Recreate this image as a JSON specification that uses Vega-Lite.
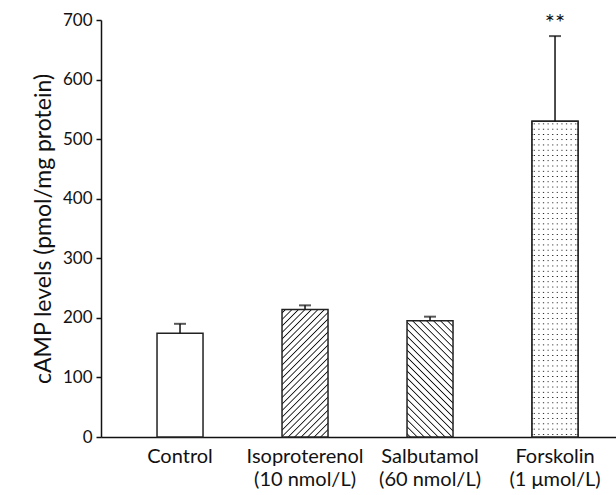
{
  "$schema": "https://vega.github.io/schema/vega-lite/v6.json",
  "autosize": "none",
  "width": 515,
  "height": 417,
  "padding": {"left": 101, "top": 20, "right": 0, "bottom": 58},
  "background": "white",
  "config": {"view": {"stroke": null}, "font": "Lato"},
  "data": {
    "values": [
      {"id": "C", "group": "Control", "value": 174, "upper": 190, "sig": ""},
      {"id": "I", "group": "Isoproterenol|(10 nmol/L)", "value": 214, "upper": 221, "sig": ""},
      {"id": "S", "group": "Salbutamol|(60 nmol/L)", "value": 195, "upper": 202, "sig": ""},
      {"id": "F", "group": "Forskolin|(1 μmol/L)", "value": 530, "upper": 673, "sig": "**"}
    ]
  },
  "encoding": {
    "x": {
      "field": "group",
      "type": "nominal",
      "sort": null,
      "scale": {"paddingInner": 0.632, "paddingOuter": 0.376, "align": 0.596},
      "axis": {
        "title": null,
        "labelAngle": 0,
        "ticks": false,
        "domainColor": "#111",
        "domainWidth": 1.5,
        "labelFontSize": 20,
        "labelColor": "#111",
        "labelPadding": 9,
        "labelLineHeight": 23,
        "labelExpr": "split(datum.label, '|')"
      }
    }
  },
  "layer": [
    {
      "mark": {"type": "bar", "stroke": "#222", "strokeWidth": 1.5},
      "encoding": {
        "y": {
          "field": "value",
          "type": "quantitative",
          "scale": {"domain": [0, 700]},
          "title": "cAMP levels (pmol/mg protein)",
          "axis": {
            "title": "cAMP levels (pmol/mg protein)",
            "titleFontSize": 23,
            "titleFontWeight": "normal",
            "titleColor": "#111",
            "titleX": -51,
            "titleBaseline": "alphabetic",
            "values": [0, 100, 200, 300, 400, 500, 600, 700],
            "grid": false,
            "tickSize": 5,
            "tickWidth": 1.5,
            "tickColor": "#111",
            "domainColor": "#111",
            "domainWidth": 1.5,
            "labelFontSize": 17,
            "labelColor": "#111",
            "labelPadding": 4
          }
        },
        "fill": {
          "condition": [
            {
              "test": "datum.id === 'I'",
              "value": {
                "gradient": "linear", "x1": 0, "y1": 0, "x2": 0.435, "y2": 1.204,
                "stops": [
                  {"offset": 0.013, "color": "#fff"}, {"offset": 0.02, "color": "#111"}, {"offset": 0.027, "color": "#fff"},
                  {"offset": 0.0505, "color": "#fff"}, {"offset": 0.0575, "color": "#111"}, {"offset": 0.0645, "color": "#fff"},
                  {"offset": 0.088, "color": "#fff"}, {"offset": 0.095, "color": "#111"}, {"offset": 0.102, "color": "#fff"},
                  {"offset": 0.1255, "color": "#fff"}, {"offset": 0.1325, "color": "#111"}, {"offset": 0.1395, "color": "#fff"},
                  {"offset": 0.163, "color": "#fff"}, {"offset": 0.17, "color": "#111"}, {"offset": 0.177, "color": "#fff"},
                  {"offset": 0.2005, "color": "#fff"}, {"offset": 0.2075, "color": "#111"}, {"offset": 0.2145, "color": "#fff"},
                  {"offset": 0.238, "color": "#fff"}, {"offset": 0.245, "color": "#111"}, {"offset": 0.252, "color": "#fff"},
                  {"offset": 0.2755, "color": "#fff"}, {"offset": 0.2825, "color": "#111"}, {"offset": 0.2895, "color": "#fff"},
                  {"offset": 0.313, "color": "#fff"}, {"offset": 0.32, "color": "#111"}, {"offset": 0.327, "color": "#fff"},
                  {"offset": 0.3505, "color": "#fff"}, {"offset": 0.3575, "color": "#111"}, {"offset": 0.3645, "color": "#fff"},
                  {"offset": 0.388, "color": "#fff"}, {"offset": 0.395, "color": "#111"}, {"offset": 0.402, "color": "#fff"},
                  {"offset": 0.4255, "color": "#fff"}, {"offset": 0.4325, "color": "#111"}, {"offset": 0.4395, "color": "#fff"},
                  {"offset": 0.463, "color": "#fff"}, {"offset": 0.47, "color": "#111"}, {"offset": 0.477, "color": "#fff"},
                  {"offset": 0.5005, "color": "#fff"}, {"offset": 0.5075, "color": "#111"}, {"offset": 0.5145, "color": "#fff"},
                  {"offset": 0.538, "color": "#fff"}, {"offset": 0.545, "color": "#111"}, {"offset": 0.552, "color": "#fff"},
                  {"offset": 0.5755, "color": "#fff"}, {"offset": 0.5825, "color": "#111"}, {"offset": 0.5895, "color": "#fff"},
                  {"offset": 0.613, "color": "#fff"}, {"offset": 0.62, "color": "#111"}, {"offset": 0.627, "color": "#fff"},
                  {"offset": 0.6505, "color": "#fff"}, {"offset": 0.6575, "color": "#111"}, {"offset": 0.6645, "color": "#fff"},
                  {"offset": 0.688, "color": "#fff"}, {"offset": 0.695, "color": "#111"}, {"offset": 0.702, "color": "#fff"},
                  {"offset": 0.7255, "color": "#fff"}, {"offset": 0.7325, "color": "#111"}, {"offset": 0.7395, "color": "#fff"},
                  {"offset": 0.763, "color": "#fff"}, {"offset": 0.77, "color": "#111"}, {"offset": 0.777, "color": "#fff"},
                  {"offset": 0.8005, "color": "#fff"}, {"offset": 0.8075, "color": "#111"}, {"offset": 0.8145, "color": "#fff"},
                  {"offset": 0.838, "color": "#fff"}, {"offset": 0.845, "color": "#111"}, {"offset": 0.852, "color": "#fff"},
                  {"offset": 0.8755, "color": "#fff"}, {"offset": 0.8825, "color": "#111"}, {"offset": 0.8895, "color": "#fff"},
                  {"offset": 0.913, "color": "#fff"}, {"offset": 0.92, "color": "#111"}, {"offset": 0.927, "color": "#fff"},
                  {"offset": 0.9505, "color": "#fff"}, {"offset": 0.9575, "color": "#111"}, {"offset": 0.9645, "color": "#fff"}
                ]
              }
            },
            {
              "test": "datum.id === 'S'",
              "value": {
                "gradient": "linear", "x1": 0, "y1": 1, "x2": 0.478, "y2": -0.207,
                "stops": [
                  {"offset": 0.0125, "color": "#fff"}, {"offset": 0.02, "color": "#111"}, {"offset": 0.0275, "color": "#fff"},
                  {"offset": 0.0555, "color": "#fff"}, {"offset": 0.063, "color": "#111"}, {"offset": 0.0705, "color": "#fff"},
                  {"offset": 0.0985, "color": "#fff"}, {"offset": 0.106, "color": "#111"}, {"offset": 0.1135, "color": "#fff"},
                  {"offset": 0.1415, "color": "#fff"}, {"offset": 0.149, "color": "#111"}, {"offset": 0.1565, "color": "#fff"},
                  {"offset": 0.1845, "color": "#fff"}, {"offset": 0.192, "color": "#111"}, {"offset": 0.1995, "color": "#fff"},
                  {"offset": 0.2275, "color": "#fff"}, {"offset": 0.235, "color": "#111"}, {"offset": 0.2425, "color": "#fff"},
                  {"offset": 0.2705, "color": "#fff"}, {"offset": 0.278, "color": "#111"}, {"offset": 0.2855, "color": "#fff"},
                  {"offset": 0.3135, "color": "#fff"}, {"offset": 0.321, "color": "#111"}, {"offset": 0.3285, "color": "#fff"},
                  {"offset": 0.3565, "color": "#fff"}, {"offset": 0.364, "color": "#111"}, {"offset": 0.3715, "color": "#fff"},
                  {"offset": 0.3995, "color": "#fff"}, {"offset": 0.407, "color": "#111"}, {"offset": 0.4145, "color": "#fff"},
                  {"offset": 0.4425, "color": "#fff"}, {"offset": 0.45, "color": "#111"}, {"offset": 0.4575, "color": "#fff"},
                  {"offset": 0.4855, "color": "#fff"}, {"offset": 0.493, "color": "#111"}, {"offset": 0.5005, "color": "#fff"},
                  {"offset": 0.5285, "color": "#fff"}, {"offset": 0.536, "color": "#111"}, {"offset": 0.5435, "color": "#fff"},
                  {"offset": 0.5715, "color": "#fff"}, {"offset": 0.579, "color": "#111"}, {"offset": 0.5865, "color": "#fff"},
                  {"offset": 0.6145, "color": "#fff"}, {"offset": 0.622, "color": "#111"}, {"offset": 0.6295, "color": "#fff"},
                  {"offset": 0.6575, "color": "#fff"}, {"offset": 0.665, "color": "#111"}, {"offset": 0.6725, "color": "#fff"},
                  {"offset": 0.7005, "color": "#fff"}, {"offset": 0.708, "color": "#111"}, {"offset": 0.7155, "color": "#fff"},
                  {"offset": 0.7435, "color": "#fff"}, {"offset": 0.751, "color": "#111"}, {"offset": 0.7585, "color": "#fff"},
                  {"offset": 0.7865, "color": "#fff"}, {"offset": 0.794, "color": "#111"}, {"offset": 0.8015, "color": "#fff"},
                  {"offset": 0.8295, "color": "#fff"}, {"offset": 0.837, "color": "#111"}, {"offset": 0.8445, "color": "#fff"},
                  {"offset": 0.8725, "color": "#fff"}, {"offset": 0.88, "color": "#111"}, {"offset": 0.8875, "color": "#fff"},
                  {"offset": 0.9155, "color": "#fff"}, {"offset": 0.923, "color": "#111"}, {"offset": 0.9305, "color": "#fff"},
                  {"offset": 0.9585, "color": "#fff"}, {"offset": 0.966, "color": "#111"}, {"offset": 0.9735, "color": "#fff"}
                ]
              }
            },
            {
              "test": "datum.id === 'F'",
              "value": {
                "gradient": "linear", "x1": 0, "y1": 0, "x2": 1, "y2": 0,
                "stops": [
                  {"offset": 0.025, "color": "#fff"}, {"offset": 0.05, "color": "#000"}, {"offset": 0.075, "color": "#fff"},
                  {"offset": 0.125, "color": "#fff"}, {"offset": 0.15, "color": "#000"}, {"offset": 0.175, "color": "#fff"},
                  {"offset": 0.225, "color": "#fff"}, {"offset": 0.25, "color": "#000"}, {"offset": 0.275, "color": "#fff"},
                  {"offset": 0.325, "color": "#fff"}, {"offset": 0.35, "color": "#000"}, {"offset": 0.375, "color": "#fff"},
                  {"offset": 0.425, "color": "#fff"}, {"offset": 0.45, "color": "#000"}, {"offset": 0.475, "color": "#fff"},
                  {"offset": 0.525, "color": "#fff"}, {"offset": 0.55, "color": "#000"}, {"offset": 0.575, "color": "#fff"},
                  {"offset": 0.625, "color": "#fff"}, {"offset": 0.65, "color": "#000"}, {"offset": 0.675, "color": "#fff"},
                  {"offset": 0.725, "color": "#fff"}, {"offset": 0.75, "color": "#000"}, {"offset": 0.775, "color": "#fff"},
                  {"offset": 0.825, "color": "#fff"}, {"offset": 0.85, "color": "#000"}, {"offset": 0.875, "color": "#fff"},
                  {"offset": 0.925, "color": "#fff"}, {"offset": 0.95, "color": "#000"}, {"offset": 0.975, "color": "#fff"}
                ]
              }
            }
          ],
          "value": "#ffffff"
        }
      }
    },
    {
      "transform": [{"filter": "datum.id === 'F'"}],
      "mark": {
        "type": "bar",
        "stroke": "#222",
        "strokeWidth": 1.5,
        "fill": {
          "gradient": "linear", "x1": 0, "y1": 0, "x2": 0, "y2": 1,
          "stops": [
            {"offset": 0.0056, "color": "#fff"}, {"offset": 0.0083, "color": "rgba(255,255,255,0)"}, {"offset": 0.011, "color": "#fff"},
            {"offset": 0.0223, "color": "#fff"}, {"offset": 0.025, "color": "rgba(255,255,255,0)"}, {"offset": 0.0277, "color": "#fff"},
            {"offset": 0.039, "color": "#fff"}, {"offset": 0.0417, "color": "rgba(255,255,255,0)"}, {"offset": 0.0444, "color": "#fff"},
            {"offset": 0.0556, "color": "#fff"}, {"offset": 0.0583, "color": "rgba(255,255,255,0)"}, {"offset": 0.061, "color": "#fff"},
            {"offset": 0.0723, "color": "#fff"}, {"offset": 0.075, "color": "rgba(255,255,255,0)"}, {"offset": 0.0777, "color": "#fff"},
            {"offset": 0.089, "color": "#fff"}, {"offset": 0.0917, "color": "rgba(255,255,255,0)"}, {"offset": 0.0944, "color": "#fff"},
            {"offset": 0.1056, "color": "#fff"}, {"offset": 0.1083, "color": "rgba(255,255,255,0)"}, {"offset": 0.111, "color": "#fff"},
            {"offset": 0.1223, "color": "#fff"}, {"offset": 0.125, "color": "rgba(255,255,255,0)"}, {"offset": 0.1277, "color": "#fff"},
            {"offset": 0.139, "color": "#fff"}, {"offset": 0.1417, "color": "rgba(255,255,255,0)"}, {"offset": 0.1444, "color": "#fff"},
            {"offset": 0.1556, "color": "#fff"}, {"offset": 0.1583, "color": "rgba(255,255,255,0)"}, {"offset": 0.161, "color": "#fff"},
            {"offset": 0.1723, "color": "#fff"}, {"offset": 0.175, "color": "rgba(255,255,255,0)"}, {"offset": 0.1777, "color": "#fff"},
            {"offset": 0.189, "color": "#fff"}, {"offset": 0.1917, "color": "rgba(255,255,255,0)"}, {"offset": 0.1944, "color": "#fff"},
            {"offset": 0.2056, "color": "#fff"}, {"offset": 0.2083, "color": "rgba(255,255,255,0)"}, {"offset": 0.211, "color": "#fff"},
            {"offset": 0.2223, "color": "#fff"}, {"offset": 0.225, "color": "rgba(255,255,255,0)"}, {"offset": 0.2277, "color": "#fff"},
            {"offset": 0.239, "color": "#fff"}, {"offset": 0.2417, "color": "rgba(255,255,255,0)"}, {"offset": 0.2444, "color": "#fff"},
            {"offset": 0.2556, "color": "#fff"}, {"offset": 0.2583, "color": "rgba(255,255,255,0)"}, {"offset": 0.261, "color": "#fff"},
            {"offset": 0.2723, "color": "#fff"}, {"offset": 0.275, "color": "rgba(255,255,255,0)"}, {"offset": 0.2777, "color": "#fff"},
            {"offset": 0.289, "color": "#fff"}, {"offset": 0.2917, "color": "rgba(255,255,255,0)"}, {"offset": 0.2944, "color": "#fff"},
            {"offset": 0.3056, "color": "#fff"}, {"offset": 0.3083, "color": "rgba(255,255,255,0)"}, {"offset": 0.311, "color": "#fff"},
            {"offset": 0.3223, "color": "#fff"}, {"offset": 0.325, "color": "rgba(255,255,255,0)"}, {"offset": 0.3277, "color": "#fff"},
            {"offset": 0.339, "color": "#fff"}, {"offset": 0.3417, "color": "rgba(255,255,255,0)"}, {"offset": 0.3444, "color": "#fff"},
            {"offset": 0.3556, "color": "#fff"}, {"offset": 0.3583, "color": "rgba(255,255,255,0)"}, {"offset": 0.361, "color": "#fff"},
            {"offset": 0.3723, "color": "#fff"}, {"offset": 0.375, "color": "rgba(255,255,255,0)"}, {"offset": 0.3777, "color": "#fff"},
            {"offset": 0.389, "color": "#fff"}, {"offset": 0.3917, "color": "rgba(255,255,255,0)"}, {"offset": 0.3944, "color": "#fff"},
            {"offset": 0.4056, "color": "#fff"}, {"offset": 0.4083, "color": "rgba(255,255,255,0)"}, {"offset": 0.411, "color": "#fff"},
            {"offset": 0.4223, "color": "#fff"}, {"offset": 0.425, "color": "rgba(255,255,255,0)"}, {"offset": 0.4277, "color": "#fff"},
            {"offset": 0.439, "color": "#fff"}, {"offset": 0.4417, "color": "rgba(255,255,255,0)"}, {"offset": 0.4444, "color": "#fff"},
            {"offset": 0.4556, "color": "#fff"}, {"offset": 0.4583, "color": "rgba(255,255,255,0)"}, {"offset": 0.461, "color": "#fff"},
            {"offset": 0.4723, "color": "#fff"}, {"offset": 0.475, "color": "rgba(255,255,255,0)"}, {"offset": 0.4777, "color": "#fff"},
            {"offset": 0.489, "color": "#fff"}, {"offset": 0.4917, "color": "rgba(255,255,255,0)"}, {"offset": 0.4944, "color": "#fff"},
            {"offset": 0.5056, "color": "#fff"}, {"offset": 0.5083, "color": "rgba(255,255,255,0)"}, {"offset": 0.511, "color": "#fff"},
            {"offset": 0.5223, "color": "#fff"}, {"offset": 0.525, "color": "rgba(255,255,255,0)"}, {"offset": 0.5277, "color": "#fff"},
            {"offset": 0.539, "color": "#fff"}, {"offset": 0.5417, "color": "rgba(255,255,255,0)"}, {"offset": 0.5444, "color": "#fff"},
            {"offset": 0.5556, "color": "#fff"}, {"offset": 0.5583, "color": "rgba(255,255,255,0)"}, {"offset": 0.561, "color": "#fff"},
            {"offset": 0.5723, "color": "#fff"}, {"offset": 0.575, "color": "rgba(255,255,255,0)"}, {"offset": 0.5777, "color": "#fff"},
            {"offset": 0.589, "color": "#fff"}, {"offset": 0.5917, "color": "rgba(255,255,255,0)"}, {"offset": 0.5944, "color": "#fff"},
            {"offset": 0.6056, "color": "#fff"}, {"offset": 0.6083, "color": "rgba(255,255,255,0)"}, {"offset": 0.611, "color": "#fff"},
            {"offset": 0.6223, "color": "#fff"}, {"offset": 0.625, "color": "rgba(255,255,255,0)"}, {"offset": 0.6277, "color": "#fff"},
            {"offset": 0.639, "color": "#fff"}, {"offset": 0.6417, "color": "rgba(255,255,255,0)"}, {"offset": 0.6444, "color": "#fff"},
            {"offset": 0.6556, "color": "#fff"}, {"offset": 0.6583, "color": "rgba(255,255,255,0)"}, {"offset": 0.661, "color": "#fff"},
            {"offset": 0.6723, "color": "#fff"}, {"offset": 0.675, "color": "rgba(255,255,255,0)"}, {"offset": 0.6777, "color": "#fff"},
            {"offset": 0.689, "color": "#fff"}, {"offset": 0.6917, "color": "rgba(255,255,255,0)"}, {"offset": 0.6944, "color": "#fff"},
            {"offset": 0.7056, "color": "#fff"}, {"offset": 0.7083, "color": "rgba(255,255,255,0)"}, {"offset": 0.711, "color": "#fff"},
            {"offset": 0.7223, "color": "#fff"}, {"offset": 0.725, "color": "rgba(255,255,255,0)"}, {"offset": 0.7277, "color": "#fff"},
            {"offset": 0.739, "color": "#fff"}, {"offset": 0.7417, "color": "rgba(255,255,255,0)"}, {"offset": 0.7444, "color": "#fff"},
            {"offset": 0.7556, "color": "#fff"}, {"offset": 0.7583, "color": "rgba(255,255,255,0)"}, {"offset": 0.761, "color": "#fff"},
            {"offset": 0.7723, "color": "#fff"}, {"offset": 0.775, "color": "rgba(255,255,255,0)"}, {"offset": 0.7777, "color": "#fff"},
            {"offset": 0.789, "color": "#fff"}, {"offset": 0.7917, "color": "rgba(255,255,255,0)"}, {"offset": 0.7944, "color": "#fff"},
            {"offset": 0.8056, "color": "#fff"}, {"offset": 0.8083, "color": "rgba(255,255,255,0)"}, {"offset": 0.811, "color": "#fff"},
            {"offset": 0.8223, "color": "#fff"}, {"offset": 0.825, "color": "rgba(255,255,255,0)"}, {"offset": 0.8277, "color": "#fff"},
            {"offset": 0.839, "color": "#fff"}, {"offset": 0.8417, "color": "rgba(255,255,255,0)"}, {"offset": 0.8444, "color": "#fff"},
            {"offset": 0.8556, "color": "#fff"}, {"offset": 0.8583, "color": "rgba(255,255,255,0)"}, {"offset": 0.861, "color": "#fff"},
            {"offset": 0.8723, "color": "#fff"}, {"offset": 0.875, "color": "rgba(255,255,255,0)"}, {"offset": 0.8777, "color": "#fff"},
            {"offset": 0.889, "color": "#fff"}, {"offset": 0.8917, "color": "rgba(255,255,255,0)"}, {"offset": 0.8944, "color": "#fff"},
            {"offset": 0.9056, "color": "#fff"}, {"offset": 0.9083, "color": "rgba(255,255,255,0)"}, {"offset": 0.911, "color": "#fff"},
            {"offset": 0.9223, "color": "#fff"}, {"offset": 0.925, "color": "rgba(255,255,255,0)"}, {"offset": 0.9277, "color": "#fff"},
            {"offset": 0.939, "color": "#fff"}, {"offset": 0.9417, "color": "rgba(255,255,255,0)"}, {"offset": 0.9444, "color": "#fff"},
            {"offset": 0.9556, "color": "#fff"}, {"offset": 0.9583, "color": "rgba(255,255,255,0)"}, {"offset": 0.961, "color": "#fff"},
            {"offset": 0.9723, "color": "#fff"}, {"offset": 0.975, "color": "rgba(255,255,255,0)"}, {"offset": 0.9777, "color": "#fff"},
            {"offset": 0.989, "color": "#fff"}, {"offset": 0.9917, "color": "rgba(255,255,255,0)"}, {"offset": 0.9944, "color": "#fff"}
          ]
        }
      },
      "encoding": {
        "y": {"field": "value", "type": "quantitative", "title": "cAMP levels (pmol/mg protein)"}
      }
    },
    {
      "mark": {"type": "rule", "color": "#111", "strokeWidth": 1.5},
      "encoding": {
        "y": {"field": "value", "type": "quantitative", "title": "cAMP levels (pmol/mg protein)"},
        "y2": {"field": "upper"}
      }
    },
    {
      "mark": {"type": "tick", "color": "#111", "size": 12, "thickness": 2, "orient": "horizontal"},
      "encoding": {
        "y": {"field": "upper", "type": "quantitative", "title": "cAMP levels (pmol/mg protein)"}
      }
    },
    {
      "transform": [{"filter": "datum.id === 'F'"}],
      "mark": {"type": "text", "fontSize": 24, "color": "#111", "dy": -12, "baseline": "middle"},
      "encoding": {
        "y": {"field": "upper", "type": "quantitative", "title": "cAMP levels (pmol/mg protein)"},
        "text": {"field": "sig"}
      }
    }
  ]
}
